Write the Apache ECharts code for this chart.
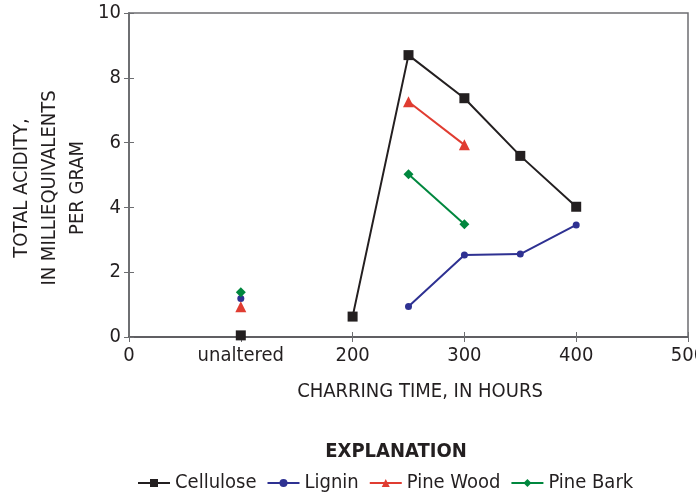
<!DOCTYPE html>
<html>
<head>
<meta charset="UTF-8">
<title></title>
<style>
  html, body { margin: 0; padding: 0; background: #fff; }
  #container { width: 696px; height: 498px; }
</style>
</head>
<body>
<div id="container"></div>
<script src="https://cdn.jsdelivr.net/npm/echarts@6/dist/echarts.min.js"></script>
<script>
// "unaltered" samples are plotted at x = 100
var unalteredX = 100;
var xTicks = [0, 100, 200, 300, 400, 500];

var celluloseHours = [200, 250, 300, 350, 400];
var celluloseAcid = [0.63, 8.70, 7.37, 5.59, 4.02];
var celluloseUnaltered = 0.05;

var ligninHours = [250, 300, 350, 400];
var ligninAcid = [0.94, 2.53, 2.56, 3.46];
var ligninUnaltered = 1.19;

var pineWoodHours = [250, 300];
var pineWoodAcid = [7.26, 5.93];
var pineWoodUnaltered = 0.93;

var pineBarkHours = [250, 300];
var pineBarkAcid = [5.02, 3.48];
var pineBarkUnaltered = 1.38;

var font = "'Liberation Sans Narrow', 'DejaVu Sans Condensed', sans-serif";
var ink = '#231f20';
var frame = '#6d6e71';

function build(unaltered, hours, vals) {
    var d = [[unalteredX, unaltered], [150, '-']];
    for (var i = 0; i < hours.length; i++) d.push([hours[i], vals[i]]);
    return d;
}

function lineSeries(name, color, symbol, size, data) {
    return {
        name: name,
        type: 'line',
        data: data,
        symbol: symbol,
        symbolSize: size,
        connectNulls: false,
        lineStyle: { color: color, width: 2 },
        itemStyle: { color: color },
        emphasis: { disabled: true }
    };
}

var myChart = echarts.init(document.getElementById('container'));
myChart.setOption({
    animation: false,
    textStyle: { fontFamily: font, color: ink },
    grid: {
        left: 129, right: 8, top: 13, bottom: 161,
        outerBoundsMode: 'none',
        show: true, borderColor: frame, borderWidth: 1.5
    },
    xAxis: [{
        type: 'value', min: 0, max: 500, interval: 100,
        axisLine: { lineStyle: { color: ink, width: 1.5 } },
        axisTick: { inside: true, length: 5, lineStyle: { color: frame } },
        splitLine: { show: false },
        axisLabel: {
            color: ink, fontSize: 20, fontFamily: font, margin: 9,
            formatter: function (v) { return v === unalteredX ? 'unaltered' : String(v); }
        }
    }, {
        type: 'value', min: 0, max: 500, interval: 100, position: 'top',
        axisLine: { show: true, lineStyle: { color: frame, width: 1.5 } },
        axisTick: { inside: true, length: 5, lineStyle: { color: frame } },
        axisLabel: { show: false }, splitLine: { show: false }
    }],
    yAxis: [{
        type: 'value', min: 0, max: 10, interval: 2,
        axisLine: { show: true, lineStyle: { color: frame, width: 1.5 } },
        axisTick: { show: true, inside: true, length: 5, lineStyle: { color: frame } },
        splitLine: { show: false },
        axisLabel: { color: ink, fontSize: 20, fontFamily: font, margin: 8 }
    }, {
        type: 'value', min: 0, max: 10, interval: 2, position: 'right',
        axisLine: { show: true, lineStyle: { color: frame, width: 1.5 } },
        axisTick: { show: true, inside: true, length: 5, lineStyle: { color: frame } },
        axisLabel: { show: false }, splitLine: { show: false }
    }],
    legend: {
        bottom: 0, left: 132,
        itemWidth: 32, itemHeight: 10, itemGap: 10,
        textStyle: { fontSize: 20, fontFamily: font, color: ink },
        data: ['Cellulose', 'Lignin', 'Pine Wood', 'Pine Bark']
    },
    graphic: [{
        type: 'text', x: 420, y: 392,
        style: { text: 'CHARRING TIME, IN HOURS', align: 'center', verticalAlign: 'middle',
                 font: '20px ' + font, fill: ink }
    }, {
        type: 'text', x: 396, y: 452,
        style: { text: 'EXPLANATION', align: 'center', verticalAlign: 'middle',
                 font: 'bold 20px ' + font, fill: ink }
    }, {
        type: 'text', x: 50, y: 188, rotation: Math.PI / 2,
        style: { text: 'TOTAL ACIDITY,\nIN MILLIEQUIVALENTS\nPER GRAM', align: 'center', verticalAlign: 'middle',
                 font: '20px ' + font, fill: ink, lineHeight: 28 }
    }],
    series: [
        lineSeries('Cellulose', ink, 'rect', 10, build(celluloseUnaltered, celluloseHours, celluloseAcid)),
        lineSeries('Lignin', '#2e3192', 'circle', 7, build(ligninUnaltered, ligninHours, ligninAcid)),
        lineSeries('Pine Wood', '#e03c31', 'triangle', 11, build(pineWoodUnaltered, pineWoodHours, pineWoodAcid)),
        lineSeries('Pine Bark', '#00873e', 'diamond', 10, build(pineBarkUnaltered, pineBarkHours, pineBarkAcid))
    ]
});
</script>
</body>
</html>
